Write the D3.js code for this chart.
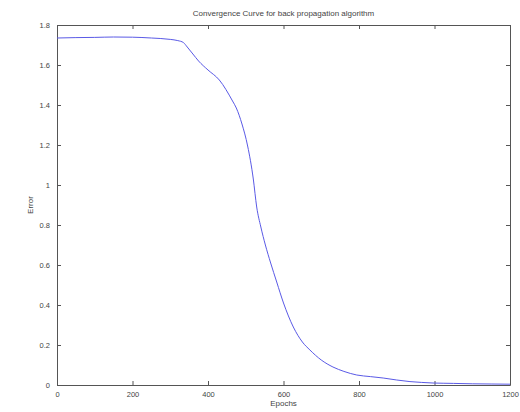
<!DOCTYPE html>
<html><head><meta charset="utf-8">
<script src="https://cdn.jsdelivr.net/npm/d3@7"></script>
<style>body{margin:0;background:#fff}svg{display:block}</style>
</head><body>
<svg id="c" width="520" height="412"></svg>
<script>
const epochs = [0,50,100,150,200,250,300,320,335,345,360,375,400,430,465,475,490,505,520,529,540,552,566,582,600,626,650,670,700,731,760,794,830,864,900,935,965,996,1050,1100,1150,1200];
const errors = [1.735,1.737,1.738,1.740,1.739,1.735,1.728,1.722,1.712,1.690,1.655,1.620,1.575,1.525,1.420,1.385,1.305,1.195,1.030,0.890,0.790,0.700,0.610,0.515,0.410,0.290,0.215,0.175,0.125,0.090,0.068,0.050,0.042,0.035,0.025,0.017,0.013,0.010,0.008,0.006,0.005,0.004];
const xTicks = [0,200,400,600,800,1000,1200];
const yTicks = [0,0.2,0.4,0.6,0.8,1,1.2,1.4,1.6,1.8];
const title = "Convergence Curve for back propagation algorithm";
const xLabel = "Epochs";
const yLabel = "Error";

const L=57,R=510,T=25,B=385;
const svg=d3.select("#c");
const x=d3.scaleLinear().domain([0,1200]).range([L,R]);
const y=d3.scaleLinear().domain([0,1.8]).range([B,T]);
const font="Liberation Sans, Arial, sans-serif";
const axCol="#555", txtCol="#444";

function styleAxis(g){
  g.select(".domain").attr("stroke",axCol);
  g.selectAll(".tick line").attr("stroke",axCol);
  g.selectAll(".tick text").attr("fill",txtCol).attr("font-size",7.5).attr("font-family",font);
}
svg.append("g").attr("transform",`translate(0,${B})`)
  .call(d3.axisBottom(x).tickValues(xTicks).tickSizeInner(-4).tickSizeOuter(0).tickPadding(7).tickFormat(d3.format("d")))
  .call(styleAxis);
svg.append("g").attr("transform",`translate(0,${T})`)
  .call(d3.axisTop(x).tickValues(xTicks).tickSizeInner(-4).tickSizeOuter(0).tickFormat(""))
  .call(styleAxis);
svg.append("g").attr("transform",`translate(${L},0)`)
  .call(d3.axisLeft(y).tickValues(yTicks).tickSizeInner(-4).tickSizeOuter(0).tickPadding(7).tickFormat(d=>String(+d.toFixed(1))))
  .call(styleAxis);
svg.append("g").attr("transform",`translate(${R},0)`)
  .call(d3.axisRight(y).tickValues(yTicks).tickSizeInner(-4).tickSizeOuter(0).tickFormat(""))
  .call(styleAxis);

const data=epochs.map((e,i)=>[e,errors[i]]);
svg.append("path").datum(data)
  .attr("fill","none").attr("stroke","#5a5ae6").attr("stroke-width",1)
  .attr("d",d3.line().x(d=>x(d[0])).y(d=>y(d[1])).curve(d3.curveMonotoneX));

svg.append("text").attr("x",(L+R)/2).attr("y",16).attr("text-anchor","middle")
  .attr("font-size",8).attr("font-family",font).attr("fill",txtCol).text(title);
svg.append("text").attr("x",(L+R)/2).attr("y",406).attr("text-anchor","middle")
  .attr("font-size",8).attr("font-family",font).attr("fill",txtCol).text(xLabel);
svg.append("text").attr("transform",`translate(33,${(T+B)/2}) rotate(-90)`).attr("text-anchor","middle")
  .attr("font-size",8).attr("font-family",font).attr("fill",txtCol).text(yLabel);
</script>
</body></html>
